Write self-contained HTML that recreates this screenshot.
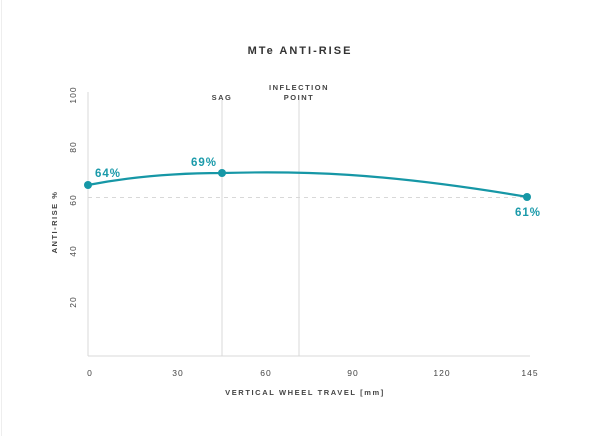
<!DOCTYPE html>
<html><head><meta charset="utf-8"><style>
html,body{margin:0;padding:0;background:#fff;}
svg{display:block;}
text{font-family:"Liberation Sans",sans-serif;}
</style></head><body>
<svg width="600" height="436" viewBox="0 0 600 436" xmlns="http://www.w3.org/2000/svg">
<rect x="0" y="0" width="600" height="436" fill="#fff"/>
<line x1="1.5" y1="0" x2="1.5" y2="436" stroke="#eee" stroke-width="1"/>
<text x="300" y="54" text-anchor="middle" font-size="11" font-weight="bold" fill="#333" letter-spacing="2">MTe ANTI-RISE</text>
<line x1="88" y1="92" x2="88" y2="356" stroke="#d8d8d8" stroke-width="1"/>
<line x1="88" y1="356" x2="530" y2="356" stroke="#d8d8d8" stroke-width="1"/>
<line x1="222" y1="100" x2="222" y2="356" stroke="#d8d8d8" stroke-width="1"/>
<line x1="299" y1="100" x2="299" y2="356" stroke="#d8d8d8" stroke-width="1"/>
<line x1="88" y1="197.5" x2="530" y2="197.5" stroke="#d8d8d8" stroke-width="1" stroke-dasharray="4,4"/>
<text x="222" y="100" text-anchor="middle" font-size="7.5" font-weight="bold" fill="#444" letter-spacing="1.5">SAG</text>
<text x="299" y="90" text-anchor="middle" font-size="7.5" font-weight="bold" fill="#444" letter-spacing="1.5">INFLECTION</text>
<text x="299" y="100" text-anchor="middle" font-size="7.5" font-weight="bold" fill="#444" letter-spacing="1.5">POINT</text>
<g font-size="8.5" fill="#444" text-anchor="middle" letter-spacing="1">
<text transform="translate(76,95) rotate(-90)">100</text>
<text transform="translate(76,147) rotate(-90)">80</text>
<text transform="translate(76,200) rotate(-90)">60</text>
<text transform="translate(76,251) rotate(-90)">40</text>
<text transform="translate(76,302) rotate(-90)">20</text>
</g>
<text transform="translate(57,222) rotate(-90)" text-anchor="middle" font-size="7.5" font-weight="bold" fill="#444" letter-spacing="1.5">ANTI-RISE %</text>
<g font-size="8.5" fill="#444" text-anchor="middle" letter-spacing="1">
<text x="90" y="376">0</text>
<text x="178" y="376">30</text>
<text x="266" y="376">60</text>
<text x="353" y="376">90</text>
<text x="442" y="376">120</text>
<text x="530" y="376">145</text>
</g>
<text x="305" y="395" text-anchor="middle" font-size="7.5" font-weight="bold" fill="#444" letter-spacing="1.6">VERTICAL WHEEL TRAVEL [mm]</text>
<path d="M88,185 C140,175 190,173 222,173 C300,171 380,172 528,197" fill="none" stroke="#1697a6" stroke-width="2.2"/>
<circle cx="88" cy="185" r="4" fill="#1697a6"/>
<circle cx="222" cy="173" r="4" fill="#1697a6"/>
<circle cx="527" cy="197" r="4" fill="#1697a6"/>
<g font-size="11.5" font-weight="bold" fill="#1a9aaa" letter-spacing="1">
<text x="95" y="177">64%</text>
<text x="191" y="166">69%</text>
<text x="528" y="216" text-anchor="middle">61%</text>
</g>
</svg>
</body></html>
